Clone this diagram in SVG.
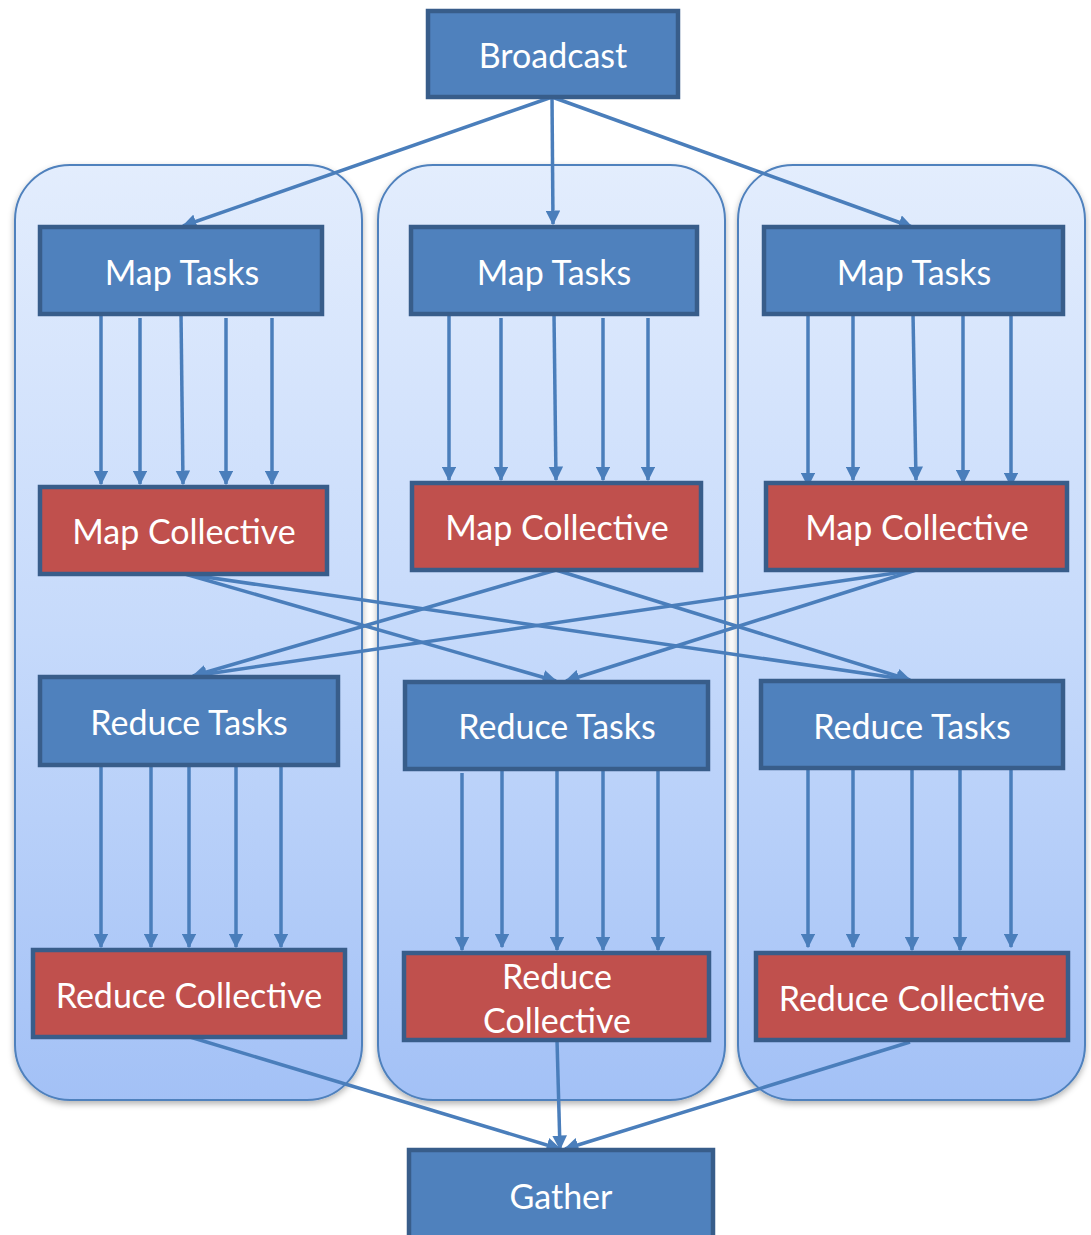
<svg xmlns="http://www.w3.org/2000/svg" width="1091" height="1235" viewBox="0 0 1091 1235">
  <defs>
    <linearGradient id="laneFill" x1="0" y1="0" x2="0" y2="1">
      <stop offset="0" stop-color="#E3EDFD"/>
      <stop offset="0.5" stop-color="#C6DAFB"/>
      <stop offset="1" stop-color="#A3C1F6"/>
    </linearGradient>
    <filter id="shadow" x="-5%" y="-5%" width="110%" height="110%">
      <feDropShadow dx="0" dy="3" stdDeviation="3" flood-color="#000" flood-opacity="0.3"/>
    </filter>
    <marker id="arrow" viewBox="0 0 12 12" refX="11" refY="6" markerWidth="4.2" markerHeight="4.2" orient="auto" markerUnits="strokeWidth">
      <path d="M0,0 L12,6 L0,12 z" fill="#4A7EBB"/>
    </marker>
  </defs>
  <style>
    .lane { fill: url(#laneFill); stroke: #4F81BD; stroke-width: 2; filter: url(#shadow); }
    .task { fill: #4F81BD; stroke: #385D8A; stroke-width: 4.5; }
    .coll { fill: #C0504D; stroke: #385D8A; stroke-width: 4.5; }
    .label { font-family: Lato, "Open Sans", "Liberation Sans", sans-serif; font-size: 34px; fill: #FFFFFF; text-anchor: middle; dominant-baseline: central; }
    .conn line { stroke: #4A7EBB; stroke-width: 3.5; marker-end: url(#arrow); }
  </style>

  <!-- lanes -->
  <g id="lane1"><rect class="lane" x="15" y="165" width="347" height="935" rx="55"/></g>
  <g id="lane2"><rect class="lane" x="378" y="165" width="347" height="935" rx="55"/></g>
  <g id="lane3"><rect class="lane" x="738" y="165" width="347" height="935" rx="55"/></g>

  <!-- connectors -->
  <g id="connectors" class="conn">
    <line x1="552" y1="97" x2="183" y2="226"/>
    <line x1="552" y1="97" x2="553" y2="224"/>
    <line x1="552" y1="97" x2="912" y2="227"/>

    <line x1="101" y1="314" x2="101" y2="484"/>
    <line x1="140" y1="318" x2="140" y2="484"/>
    <line x1="181" y1="314" x2="183" y2="484"/>
    <line x1="226" y1="318" x2="226" y2="484"/>
    <line x1="272" y1="318" x2="272" y2="484"/>

    <line x1="449" y1="314" x2="449" y2="480"/>
    <line x1="501" y1="318" x2="501" y2="480"/>
    <line x1="554" y1="314" x2="556" y2="480"/>
    <line x1="603" y1="318" x2="603" y2="480"/>
    <line x1="648" y1="318" x2="648" y2="480"/>

    <line x1="808" y1="300" x2="808" y2="486"/>
    <line x1="853" y1="314" x2="853" y2="480"/>
    <line x1="913" y1="314" x2="916" y2="480"/>
    <line x1="963" y1="314" x2="963" y2="483"/>
    <line x1="1011" y1="314" x2="1011" y2="486"/>

    <line x1="185" y1="574" x2="556" y2="681"/>
    <line x1="185" y1="574" x2="910" y2="680"/>
    <line x1="556" y1="570" x2="193" y2="676"/>
    <line x1="556" y1="570" x2="910" y2="680"/>
    <line x1="916" y1="570" x2="193" y2="676"/>
    <line x1="916" y1="570" x2="566" y2="681"/>

    <line x1="101" y1="767" x2="101" y2="947"/>
    <line x1="151" y1="767" x2="151" y2="947"/>
    <line x1="189" y1="767" x2="189" y2="947"/>
    <line x1="236" y1="767" x2="236" y2="947"/>
    <line x1="281" y1="767" x2="281" y2="947"/>

    <line x1="462" y1="773" x2="462" y2="950"/>
    <line x1="502" y1="771" x2="502" y2="947"/>
    <line x1="557" y1="771" x2="557" y2="950"/>
    <line x1="603" y1="771" x2="603" y2="950"/>
    <line x1="658" y1="771" x2="658" y2="950"/>

    <line x1="808" y1="770" x2="808" y2="947"/>
    <line x1="853" y1="770" x2="853" y2="947"/>
    <line x1="912" y1="770" x2="912" y2="950"/>
    <line x1="960" y1="770" x2="960" y2="950"/>
    <line x1="1011" y1="770" x2="1011" y2="947"/>

    <line x1="190" y1="1037" x2="560" y2="1149"/>
    <line x1="557" y1="1040" x2="560" y2="1149"/>
    <line x1="910" y1="1042" x2="565" y2="1149"/>
  </g>

  <!-- nodes -->
  <g id="broadcast"><rect class="task" x="428" y="11" width="250" height="86"/><text class="label" x="553" y="54">Broadcast</text></g>

  <g id="map-tasks-1"><rect class="task" x="40" y="227" width="282" height="87"/><text class="label" x="182" y="271">Map Tasks</text></g>
  <g id="map-tasks-2"><rect class="task" x="411" y="227" width="286" height="87"/><text class="label" x="554" y="271">Map Tasks</text></g>
  <g id="map-tasks-3"><rect class="task" x="764" y="227" width="299" height="87"/><text class="label" x="914" y="271">Map Tasks</text></g>

  <g id="map-collective-1"><rect class="coll" x="40" y="487" width="287" height="87"/><text class="label" x="184" y="530">Map Collective</text></g>
  <g id="map-collective-2"><rect class="coll" x="412" y="483" width="289" height="87"/><text class="label" x="557" y="526">Map Collective</text></g>
  <g id="map-collective-3"><rect class="coll" x="766" y="483" width="301" height="87"/><text class="label" x="917" y="526">Map Collective</text></g>

  <g id="reduce-tasks-1"><rect class="task" x="40" y="677" width="298" height="88"/><text class="label" x="189" y="721">Reduce Tasks</text></g>
  <g id="reduce-tasks-2"><rect class="task" x="405" y="682" width="303" height="87"/><text class="label" x="557" y="725">Reduce Tasks</text></g>
  <g id="reduce-tasks-3"><rect class="task" x="761" y="681" width="302" height="87"/><text class="label" x="912" y="725">Reduce Tasks</text></g>

  <g id="reduce-collective-1"><rect class="coll" x="33" y="950" width="312" height="87"/><text class="label" x="189" y="994">Reduce Collective</text></g>
  <g id="reduce-collective-2"><rect class="coll" x="404" y="953" width="305" height="87"/><text class="label" x="557" y="975">Reduce</text><text class="label" x="557" y="1019">Collective</text></g>
  <g id="reduce-collective-3"><rect class="coll" x="756" y="953" width="312" height="87"/><text class="label" x="912" y="997">Reduce Collective</text></g>

  <g id="gather"><rect class="task" x="409" y="1150" width="304" height="95"/><text class="label" x="561" y="1195">Gather</text></g>
</svg>
